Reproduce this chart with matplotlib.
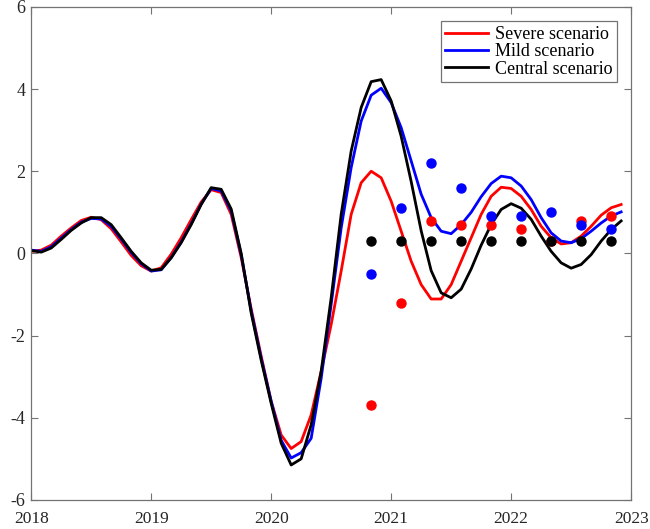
import numpy as np
import matplotlib
matplotlib.use("Agg")
import matplotlib.pyplot as plt

# Monthly data, Jan 2018 .. Dec 2022
months = np.arange(60)
years = 2018 + months / 12.0

central = [0.07, 0.03, 0.13, 0.34, 0.56, 0.74, 0.87, 0.87, 0.70, 0.38,
           0.05, -0.23, -0.41, -0.39, -0.11, 0.26, 0.70, 1.19, 1.60, 1.56,
           1.08, 0.00, -1.45, -2.60, -3.65, -4.62, -5.15, -5.00, -4.17, -2.87,
           -1.08, 0.95, 2.49, 3.55, 4.18, 4.23, 3.71, 2.85, 1.75, 0.55,
           -0.42, -0.96, -1.08, -0.87, -0.38, 0.20, 0.70, 1.07, 1.21, 1.10,
           0.83, 0.42, 0.05, -0.23, -0.36, -0.27, -0.03, 0.30, 0.58, 0.79]

mild = [0.08, 0.05, 0.16, 0.37, 0.58, 0.76, 0.85, 0.84, 0.66, 0.35,
        0.02, -0.25, -0.43, -0.40, -0.10, 0.28, 0.72, 1.20, 1.58, 1.52,
        1.03, -0.03, -1.40, -2.55, -3.60, -4.55, -4.98, -4.85, -4.50, -3.04,
        -1.24, 0.62, 2.09, 3.22, 3.85, 4.02, 3.67, 3.06, 2.25, 1.44,
        0.87, 0.54, 0.48, 0.70, 1.00, 1.38, 1.70, 1.88, 1.84, 1.64,
        1.31, 0.87, 0.50, 0.30, 0.26, 0.36, 0.54, 0.74, 0.91, 1.01]

severe = [0.05, 0.08, 0.20, 0.42, 0.62, 0.80, 0.88, 0.82, 0.60, 0.28,
          -0.05, -0.30, -0.43, -0.35, -0.02, 0.38, 0.82, 1.25, 1.55, 1.48,
          0.95, -0.10, -1.35, -2.50, -3.60, -4.42, -4.75, -4.58, -3.93, -2.87,
          -1.73, -0.43, 0.95, 1.72, 2.00, 1.84, 1.27, 0.54, -0.19, -0.76,
          -1.11, -1.11, -0.76, -0.19, 0.38, 0.95, 1.39, 1.61, 1.58, 1.39,
          1.07, 0.66, 0.38, 0.23, 0.26, 0.42, 0.66, 0.93, 1.11, 1.19]

# Quarterly point forecasts (Nov 2020 .. Nov 2022)
dot_years = 2020 + 10/12 + 0.25 * np.arange(9)
severe_dots = [-3.7, -1.2, 0.8, 0.7, 0.7, 0.6, 0.3, 0.8, 0.9]
mild_dots = [-0.5, 1.1, 2.2, 1.6, 0.9, 0.9, 1.0, 0.7, 0.6]
central_dots = [0.3, 0.3, 0.3, 0.3, 0.3, 0.3, 0.3, 0.3, 0.3]

labels = ["Severe scenario", "Mild scenario", "Central scenario"]
xticks = [2018, 2019, 2020, 2021, 2022, 2023]
yticks = [-6, -4, -2, 0, 2, 4, 6]

plt.rcParams['font.family'] = ['Liberation Serif', 'DejaVu Serif']

fig = plt.figure(figsize=(6.5, 5.29), dpi=100)
ax = fig.add_axes([0.048, 0.055, 0.923, 0.932])

ax.plot(years, severe, color=(1, 0, 0), lw=2.0, label=labels[0])
ax.plot(years, mild, color=(0, 0, 1), lw=2.0, label=labels[1])
ax.plot(years, central, color='black', lw=2.0, label=labels[2])

ax.plot(dot_years, severe_dots, 'o', color=(1, 0, 0), ms=6.5, ls='none')
ax.plot(dot_years, mild_dots, 'o', color=(0, 0, 1), ms=6.5, ls='none')
ax.plot(dot_years, central_dots, 'o', color='black', ms=6.5, ls='none')

ax.set_xlim(2018, 2023)
ax.set_ylim(-6, 6)
ax.set_xticks(xticks)
ax.set_yticks(yticks)
ax.set_xticklabels([str(v) for v in xticks])
ax.set_yticklabels([str(v) for v in yticks])

ax.tick_params(direction='in', length=5, width=0.8, colors='0.45',
               labelcolor='0.15', labelsize=13, top=True, right=True)
ax.tick_params(axis='x', pad=8, labelsize=12.5)
ax.tick_params(axis='y', pad=4)
for s in ax.spines.values():
    s.set_color('0.45')
    s.set_linewidth(0.9)

leg = ax.legend(loc='upper right', fontsize=13, fancybox=False, framealpha=1,
                edgecolor='0.45', handlelength=2.4, borderaxespad=0.8,
                labelspacing=0.02, borderpad=0.25, handletextpad=0.35)
leg.get_frame().set_linewidth(0.9)

fig.savefig("out.png", dpi=100)
